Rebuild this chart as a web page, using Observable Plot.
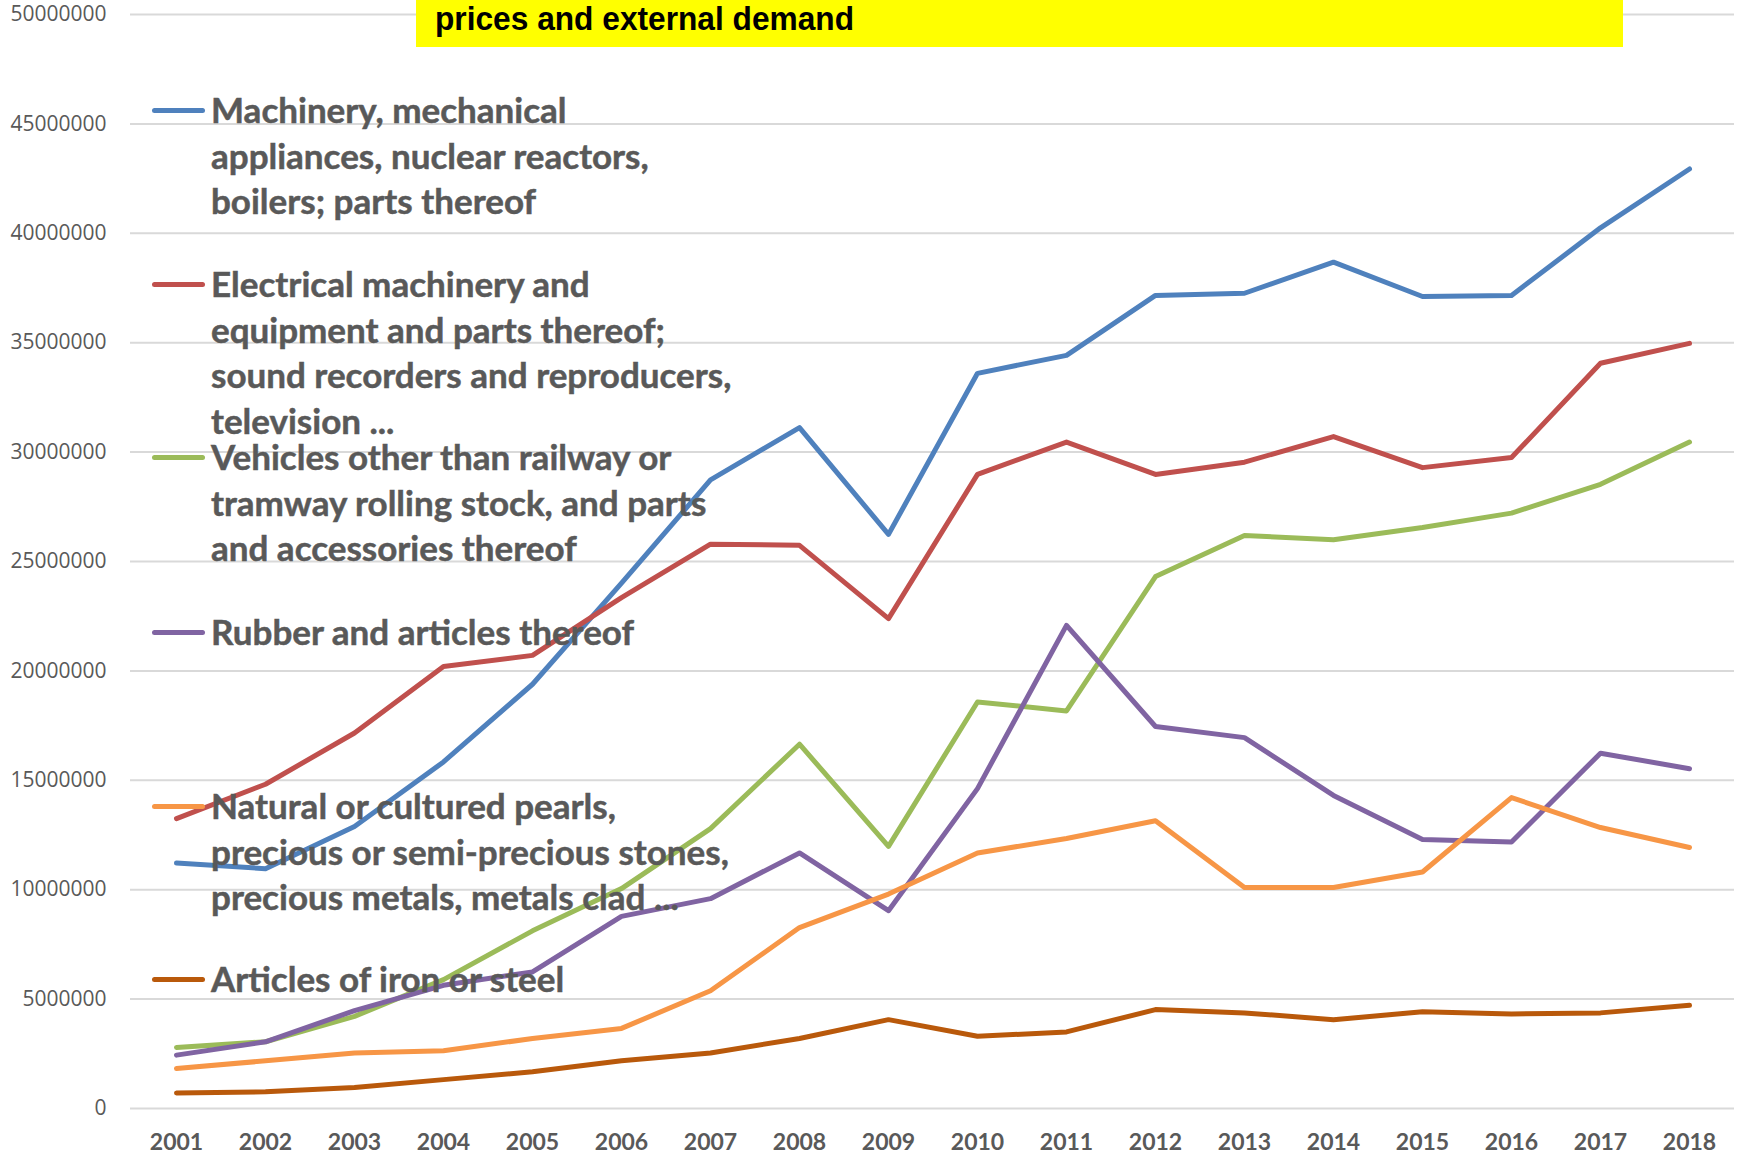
<!DOCTYPE html>
<html>
<head>
<meta charset="utf-8">
<script src="https://cdn.jsdelivr.net/npm/d3@7"></script>
<script src="https://cdn.jsdelivr.net/npm/@observablehq/plot@0.6"></script>
<style>
  html, body { margin: 0; padding: 0; background: #ffffff; }
  #wrap { position: relative; width: 1741px; height: 1156px; overflow: hidden; background: #fff; }
  #chart { position: absolute; left: 0; top: 0; }
  #title {
    position: absolute; left: 416px; top: 0; width: 1207px; height: 47px;
    background: #ffff00; color: #000;
    font-family: "Liberation Sans", Arial, sans-serif; font-weight: bold; font-size: 33px;
  }
  #title span { position: absolute; left: 19px; top: 0px; line-height: 38px; white-space: nowrap;
    transform: scaleX(0.96); transform-origin: left center; }
  .legSwatch { position: absolute; left: 152px; width: 53px; height: 5px; border-radius: 3px; }
  .legText {
    position: absolute; left: 211px; white-space: pre; color: #595959;
    font-family: Lato, "Open Sans", sans-serif; font-weight: 700; font-size: 35px; line-height: 45.5px;
    -webkit-text-stroke: 0.5px #595959;
  }
</style>
</head>
<body>
<div id="wrap">
  <div id="chart"></div>
  <div id="title"><span id="titleText"></span></div>
  <div id="legend"></div>
</div>
<script>
// ---- data ----
const years = ["2001","2002","2003","2004","2005","2006","2007","2008","2009","2010","2011","2012","2013","2014","2015","2016","2017","2018"];

const seriesNames = [
  "Machinery, mechanical appliances, nuclear reactors, boilers; parts thereof",
  "Electrical machinery and equipment and parts thereof; sound recorders and reproducers, television ...",
  "Vehicles other than railway or tramway rolling stock, and parts and accessories thereof",
  "Rubber and articles thereof",
  "Natural or cultured pearls, precious or semi-precious stones, precious metals, metals clad ...",
  "Articles of iron or steel"
];

const legendLines = [
  ["Machinery, mechanical", "appliances, nuclear reactors,", "boilers; parts thereof"],
  ["Electrical machinery and", "equipment and parts thereof;", "sound recorders and reproducers,", "television ..."],
  ["Vehicles other than railway or", "tramway rolling stock, and parts", "and accessories thereof"],
  ["Rubber and articles thereof"],
  ["Natural or cultured pearls,", "precious or semi-precious stones,", "precious metals, metals clad ..."],
  ["Articles of iron or steel"]
];

const seriesColors = ["#4f81bd", "#c0504d", "#9bbb59", "#8064a2", "#f79646", "#b9590b"];

const machinery  = [11220000, 10960000, 12890000, 15840000, 19390000, 24010000, 28730000, 31120000, 26240000, 33600000, 34420000, 37160000, 37260000, 38680000, 37110000, 37160000, 40250000, 42940000];
const electrical = [13250000, 14820000, 17160000, 20200000, 20710000, 23350000, 25790000, 25740000, 22390000, 28980000, 30460000, 28980000, 29540000, 30710000, 29290000, 29750000, 34060000, 34970000];
const vehicles   = [2790000, 3050000, 4210000, 5890000, 8120000, 10050000, 12790000, 16650000, 11980000, 18580000, 18170000, 24310000, 26190000, 25990000, 26550000, 27210000, 28530000, 30460000];
const rubber     = [2440000, 3050000, 4470000, 5630000, 6240000, 8780000, 9590000, 11680000, 9040000, 14620000, 22080000, 17460000, 16950000, 14310000, 12290000, 12180000, 16240000, 15530000];
const pearls     = [1830000, 2180000, 2540000, 2640000, 3200000, 3660000, 5380000, 8270000, 9800000, 11680000, 12340000, 13150000, 10100000, 10100000, 10810000, 14210000, 12840000, 11930000];
const ironSteel  = [710000, 760000, 960000, 1320000, 1680000, 2180000, 2540000, 3200000, 4060000, 3300000, 3500000, 4520000, 4370000, 4060000, 4420000, 4320000, 4370000, 4720000];

const yTicks = [0, 5000000, 10000000, 15000000, 20000000, 25000000, 30000000, 35000000, 40000000, 45000000, 50000000];
const titleText = "prices and external demand";

// ---- build table ----
const seriesValues = [machinery, electrical, vehicles, rubber, pearls, ironSteel];
const rows = [];
seriesNames.forEach((name, i) => {
  years.forEach((yr, j) => rows.push({series: name, year: yr, value: seriesValues[i][j]}));
});

const chart = Plot.plot({
  width: 1741,
  height: 1156,
  marginLeft: 130,
  marginRight: 7,
  marginTop: 14,
  marginBottom: 48,
  style: {background: "#ffffff", overflow: "visible"},
  x: {type: "point", domain: years, padding: 0.5},
  y: {domain: [0, 50000000]},
  color: {domain: seriesNames, range: seriesColors},
  marks: [
    Plot.gridY(yTicks, {stroke: "#d9d9d9", strokeOpacity: 1, strokeWidth: 2}),
    Plot.axisY(yTicks, {
      tickSize: 0, tickPadding: 24, tickFormat: d => String(d),
      fontSize: 21, fontFamily: "'Open Sans', sans-serif", fill: "#595959", label: null
    }),
    Plot.axisX({
      tickSize: 0, tickPadding: 25, fontSize: 23, fontWeight: "bold",
      fontFamily: "Lato, sans-serif", fill: "#595959", label: null
    }),
    Plot.line(rows, {
      x: "year", y: "value", z: "series", stroke: "series",
      strokeWidth: 5, strokeLinejoin: "round", strokeLinecap: "round"
    })
  ]
});
document.getElementById("chart").appendChild(chart);
document.getElementById("titleText").textContent = titleText;

// ---- legend overlay ----
const legendCenters = [110, 284, 457, 632, 806, 979];
const legend = document.getElementById("legend");
seriesNames.forEach((name, i) => {
  const sw = document.createElement("div");
  sw.className = "legSwatch";
  sw.style.background = seriesColors[i];
  sw.style.top = (legendCenters[i] - 2.5) + "px";
  legend.appendChild(sw);
  const tx = document.createElement("div");
  tx.className = "legText";
  tx.textContent = legendLines[i].join("\n");
  tx.style.top = (legendCenters[i] - 22.75) + "px";
  legend.appendChild(tx);
});
</script>
</body>
</html>
